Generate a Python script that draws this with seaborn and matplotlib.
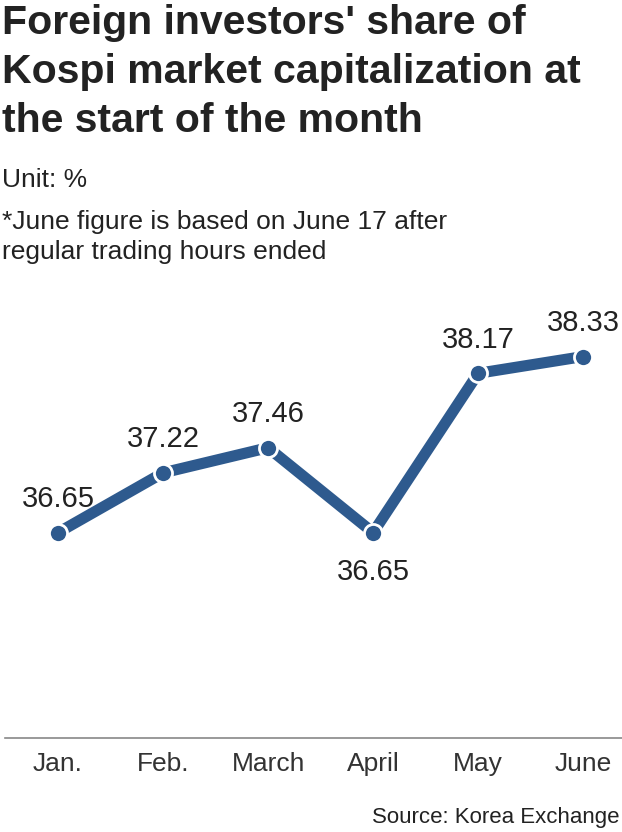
import matplotlib
matplotlib.use("Agg")
import matplotlib.pyplot as plt
import seaborn as sns
import pandas as pd

months = ["Jan.", "Feb.", "March", "April", "May", "June"]
share = [36.65, 37.22, 37.46, 36.65, 38.17, 38.33]
label_below = [False, False, False, True, False, False]

sns.set_theme(style="white")
plt.rcParams['font.family'] = ['Liberation Sans', 'DejaVu Sans']

fig = plt.figure(figsize=(6.22, 8.32), dpi=100)
W, H = 622, 832
ax = fig.add_axes([5 / W, 1 - 738 / H, 617 / W, (738 - 290) / H])

df = pd.DataFrame({"x": range(len(months)), "share": share})
line_color = "#2e5a8e"
sns.lineplot(data=df, x="x", y="share", color=line_color, linewidth=8, ax=ax,
             marker="o", markersize=13, markerfacecolor=line_color,
             markeredgecolor="white", markeredgewidth=2)

ax.set_xlim(-0.505, 5.37)
ax.set_ylim(34.69, 34.69 + 448 / 104.8)
for i, (v, below) in enumerate(zip(share, label_below)):
    ax.annotate(f"{v:.2f}", (i, v), xytext=(0, -18 if below else 14), textcoords="offset points",
                ha="center", va="top" if below else "bottom", fontsize=21, color="#222222")

ax.set_xticks(range(len(months)))
ax.set_xticklabels(months, fontsize=19, color="#333333")
ax.set_yticks([])
ax.set_xlabel("")
ax.set_ylabel("")
ax.tick_params(axis="x", length=0, pad=10)
for s in ["top", "right", "left"]:
    ax.spines[s].set_visible(False)
ax.spines["bottom"].set_color("#888888")
ax.spines["bottom"].set_linewidth(1.2)

fig.text(2 / W, 1 - 4 / H, "Foreign investors' share of\nKospi market capitalization at\nthe start of the month",
         fontsize=29.5, fontweight="bold", color="#222222", va="top", ha="left", linespacing=1.36)
fig.text(2 / W, 1 - 180 / H, "Unit: %", fontsize=19, color="#222222", va="center")
fig.text(2 / W, 1 - 237 / H, "*June figure is based on June 17 after\nregular trading hours ended",
         fontsize=19, color="#222222", va="center", linespacing=1.3)
fig.text(620 / W, 1 - 818 / H, "Source: Korea Exchange", fontsize=16, color="#222222",
         va="center", ha="right")

fig.savefig("out.png", dpi=100)
